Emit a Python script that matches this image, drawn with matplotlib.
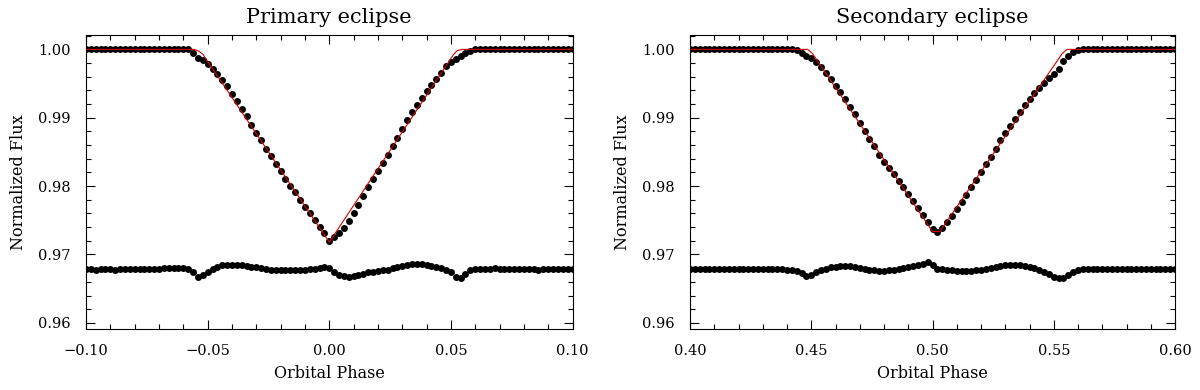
import numpy as np
import matplotlib
matplotlib.use("Agg")
import matplotlib.pyplot as plt
from matplotlib.ticker import MultipleLocator, FuncFormatter

# phase grids: regular 0.002 sampling
phase_primary = np.linspace(-0.10, 0.10, 101)
phase_secondary = np.linspace(0.40, 0.60, 101)

# primary eclipse, observed flux (rows of ten, starting at -0.100, -0.080, ...)
flux_primary = [
    1.0000, 1.0000, 1.0000, 1.0000, 1.0000, 1.0000, 1.0000, 1.0000, 1.0000, 1.0000,
    1.0000, 1.0000, 1.0000, 1.0000, 1.0000, 1.0000, 1.0000, 1.0001, 1.0001, 1.0001,
    1.0001, 1.0000, 0.9995, 0.9988, 0.9984, 0.9978, 0.9971, 0.9964, 0.9955, 0.9946,
    0.9935, 0.9925, 0.9913, 0.9902, 0.9890, 0.9878, 0.9867, 0.9855, 0.9844, 0.9832,
    0.9822, 0.9811, 0.9800, 0.9791, 0.9780, 0.9770, 0.9760, 0.9750, 0.9740, 0.9731,
    0.9719, 0.9725, 0.9731, 0.9739, 0.9749, 0.9761, 0.9773, 0.9786, 0.9799, 0.9811,
    0.9822, 0.9834, 0.9846, 0.9859, 0.9870, 0.9883, 0.9896, 0.9908, 0.9918, 0.9929,
    0.9939, 0.9948, 0.9957, 0.9966, 0.9975, 0.9982, 0.9986, 0.9990, 0.9995, 0.9998,
    1.0000, 1.0000, 1.0000, 1.0000, 1.0000, 1.0000, 1.0000, 1.0000, 1.0000, 1.0000,
    1.0000, 1.0000, 1.0000, 1.0000, 1.0000, 1.0000, 1.0000, 1.0000, 1.0000, 1.0000,
    1.0000,
]

# primary eclipse, residuals shifted to ~0.968
resid_primary = [
    0.9679, 0.9679, 0.9678, 0.9679, 0.9679, 0.9679, 0.9678, 0.9679, 0.9679, 0.9679,
    0.9679, 0.9679, 0.9679, 0.9679, 0.9679, 0.9679, 0.9680, 0.9680, 0.9680, 0.9680,
    0.9680, 0.9679, 0.9674, 0.9667, 0.9670, 0.9675, 0.9679, 0.9682, 0.9684, 0.9685,
    0.9685, 0.9685, 0.9684, 0.9683, 0.9682, 0.9681, 0.9680, 0.9679, 0.9678, 0.9677,
    0.9677, 0.9677, 0.9677, 0.9678, 0.9678, 0.9678, 0.9679, 0.9679, 0.9680, 0.9681,
    0.9680, 0.9675, 0.9670, 0.9668, 0.9667, 0.9668, 0.9670, 0.9672, 0.9674, 0.9675,
    0.9676, 0.9677, 0.9678, 0.9680, 0.9681, 0.9683, 0.9685, 0.9686, 0.9686, 0.9686,
    0.9685, 0.9683, 0.9682, 0.9680, 0.9678, 0.9674, 0.9667, 0.9666, 0.9672, 0.9677,
    0.9679, 0.9679, 0.9679, 0.9679, 0.9680, 0.9679, 0.9679, 0.9679, 0.9679, 0.9679,
    0.9679, 0.9679, 0.9679, 0.9678, 0.9679, 0.9679, 0.9679, 0.9679, 0.9679, 0.9679,
    0.9679,
]

# secondary eclipse, observed flux (rows of ten, starting at 0.400, 0.420, ...)
flux_secondary = [
    1.0000, 1.0000, 1.0000, 1.0000, 1.0000, 1.0000, 1.0000, 1.0000, 1.0000, 1.0000,
    1.0000, 1.0000, 1.0000, 1.0000, 1.0000, 1.0000, 1.0000, 1.0000, 1.0000, 1.0000,
    1.0000, 1.0000, 0.9999, 0.9994, 0.9990, 0.9988, 0.9981, 0.9974, 0.9965, 0.9956,
    0.9947, 0.9937, 0.9927, 0.9916, 0.9905, 0.9892, 0.9881, 0.9869, 0.9858, 0.9846,
    0.9836, 0.9826, 0.9817, 0.9807, 0.9798, 0.9789, 0.9778, 0.9768, 0.9758, 0.9748,
    0.9737, 0.9733, 0.9739, 0.9748, 0.9757, 0.9767, 0.9777, 0.9787, 0.9798, 0.9809,
    0.9820, 0.9832, 0.9843, 0.9855, 0.9867, 0.9878, 0.9888, 0.9898, 0.9909, 0.9918,
    0.9927, 0.9936, 0.9944, 0.9951, 0.9958, 0.9964, 0.9972, 0.9983, 0.9991, 0.9996,
    0.9999, 1.0000, 1.0000, 1.0000, 1.0000, 1.0000, 1.0000, 1.0000, 1.0000, 1.0000,
    1.0000, 1.0000, 1.0000, 1.0000, 1.0000, 1.0000, 1.0000, 1.0000, 1.0000, 1.0000,
    1.0000,
]

resid_secondary = [
    0.9679, 0.9679, 0.9679, 0.9679, 0.9679, 0.9679, 0.9679, 0.9679, 0.9679, 0.9679,
    0.9679, 0.9679, 0.9679, 0.9679, 0.9679, 0.9679, 0.9679, 0.9679, 0.9679, 0.9679,
    0.9678, 0.9678, 0.9676, 0.9673, 0.9669, 0.9670, 0.9674, 0.9677, 0.9679, 0.9681,
    0.9682, 0.9683, 0.9683, 0.9683, 0.9682, 0.9680, 0.9679, 0.9678, 0.9677, 0.9676,
    0.9676, 0.9677, 0.9678, 0.9679, 0.9680, 0.9682, 0.9683, 0.9684, 0.9686, 0.9689,
    0.9684, 0.9679, 0.9679, 0.9678, 0.9677, 0.9676, 0.9676, 0.9676, 0.9676, 0.9677,
    0.9678, 0.9679, 0.9680, 0.9682, 0.9683, 0.9684, 0.9684, 0.9684, 0.9684, 0.9683,
    0.9682, 0.9680, 0.9678, 0.9675, 0.9671, 0.9667, 0.9665, 0.9666, 0.9670, 0.9675,
    0.9678, 0.9679, 0.9679, 0.9679, 0.9679, 0.9679, 0.9679, 0.9679, 0.9679, 0.9679,
    0.9679, 0.9679, 0.9679, 0.9679, 0.9679, 0.9679, 0.9679, 0.9679, 0.9679, 0.9679,
    0.9679,
]

# model light curves (vertices of the red line)
model_phase_primary = [-0.100, -0.0555, -0.0535, -0.0520, 0.000, 0.0510, 0.0525, 0.0545, 0.100]
model_flux_primary = [1.0000, 1.0000, 0.9997, 0.9993, 0.9718, 0.9992, 0.9998, 1.0000, 1.0000]

model_phase_secondary = [0.400, 0.4485, 0.4505, 0.500, 0.503, 0.5535, 0.5555, 0.600]
model_flux_secondary = [1.0000, 1.0000, 0.9994, 0.97335, 0.97335, 0.9994, 1.0000, 1.0000]

titles = ["Primary eclipse", "Secondary eclipse"]
xlims = [(-0.10, 0.10), (0.40, 0.60)]

plt.rcParams["font.family"] = ["DejaVu Serif"]


def two_dec(v, pos):
    return ("%.2f" % v).replace("-", "\u2212")


fig = plt.figure(figsize=(12, 3.9), dpi=100)
ax_l = fig.add_axes([0.0717, 0.1564, 0.4054, 0.7538])
ax_r = fig.add_axes([0.575, 0.1564, 0.4042, 0.7538])

panels = [
    (ax_l, phase_primary, flux_primary, resid_primary, model_phase_primary, model_flux_primary),
    (ax_r, phase_secondary, flux_secondary, resid_secondary, model_phase_secondary, model_flux_secondary),
]

for i, (ax, ph, fl, rs, mph, mfl) in enumerate(panels):
    ax.plot(ph, fl, "o", color="black", ms=5.0, mew=0, zorder=2)
    ax.plot(ph, rs, "o", color="black", ms=5.0, mew=0, zorder=2)
    ax.plot(mph, mfl, "-", color="#d00000", lw=0.8, zorder=3)

    ax.set_xlim(*xlims[i])
    ax.set_ylim(0.9591, 1.0021)
    ax.xaxis.set_major_locator(MultipleLocator(0.05))
    ax.xaxis.set_minor_locator(MultipleLocator(0.01))
    ax.yaxis.set_major_locator(MultipleLocator(0.01))
    ax.yaxis.set_minor_locator(MultipleLocator(0.002))
    ax.xaxis.set_major_formatter(FuncFormatter(two_dec))
    ax.yaxis.set_major_formatter(FuncFormatter(two_dec))
    ax.tick_params(which="both", direction="in", top=True, right=True, width=0.8)
    ax.tick_params(which="major", length=6.5, labelsize=10.5, pad=11)
    ax.tick_params(which="minor", length=3.5)
    for sp in ax.spines.values():
        sp.set_linewidth(0.8)

    ax.set_title(titles[i], fontsize=15, pad=9)
    ax.set_xlabel("Orbital Phase", fontsize=11.5, labelpad=5)
    ax.set_ylabel("Normalized Flux", fontsize=11.5, labelpad=8)

fig.savefig("out.png", dpi=100)
